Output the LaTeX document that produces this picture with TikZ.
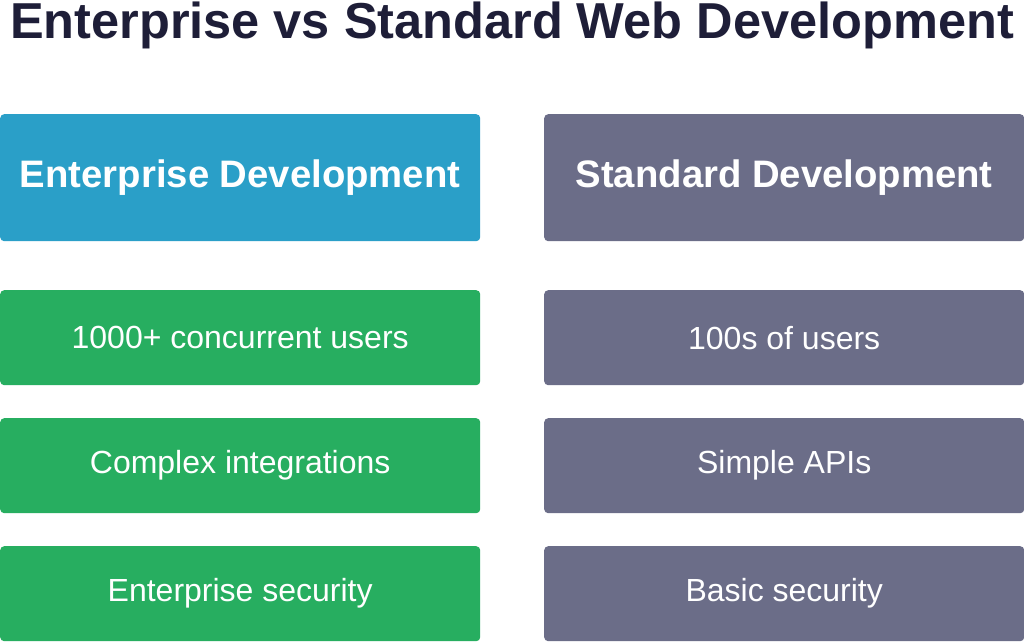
\documentclass[tikz,border=0pt]{standalone}
\usepackage{fontspec}
\setmainfont{Liberation Sans}
\definecolor{titlec}{HTML}{1E1E38}
\definecolor{bluec}{HTML}{2A9FC8}
\definecolor{grayc}{HTML}{6B6D88}
\definecolor{greenc}{HTML}{27AE60}
\begin{document}
\begin{tikzpicture}[x=1pt,y=1pt,
  box/.style={rounded corners=4pt,text=white,inner sep=0pt,minimum width=480pt,anchor=north west},
  head/.style={box,minimum height=127pt,font=\bfseries\fontsize{38.3}{44}\selectfont},
  row/.style={box,minimum height=95pt,font=\fontsize{32}{38}\selectfont}]
\useasboundingbox (0,0) rectangle (1024,642);
\fill[white] (0,0) rectangle (1024,642);
\node[font=\bfseries\fontsize{50.5}{60}\selectfont,text=titlec] (title) at (512,617) {Enterprise vs Standard Web Development};
\node[head,fill=bluec] (eh) at (0,528) {Enterprise Development};
\node[head,fill=grayc] (sh) at (544,528) {Standard Development};
\node[row,fill=greenc] (e1) at (0,352) {1000+ concurrent users};
\node[row,fill=greenc] (e2) at (0,224) {Complex integrations};
\node[row,fill=greenc] (e3) at (0,96) {Enterprise security};
\node[row,fill=grayc] (s1) at (544,352) {100s of users};
\node[row,fill=grayc] (s2) at (544,224) {Simple APIs};
\node[row,fill=grayc] (s3) at (544,96) {Basic security};
\end{tikzpicture}
\end{document}
